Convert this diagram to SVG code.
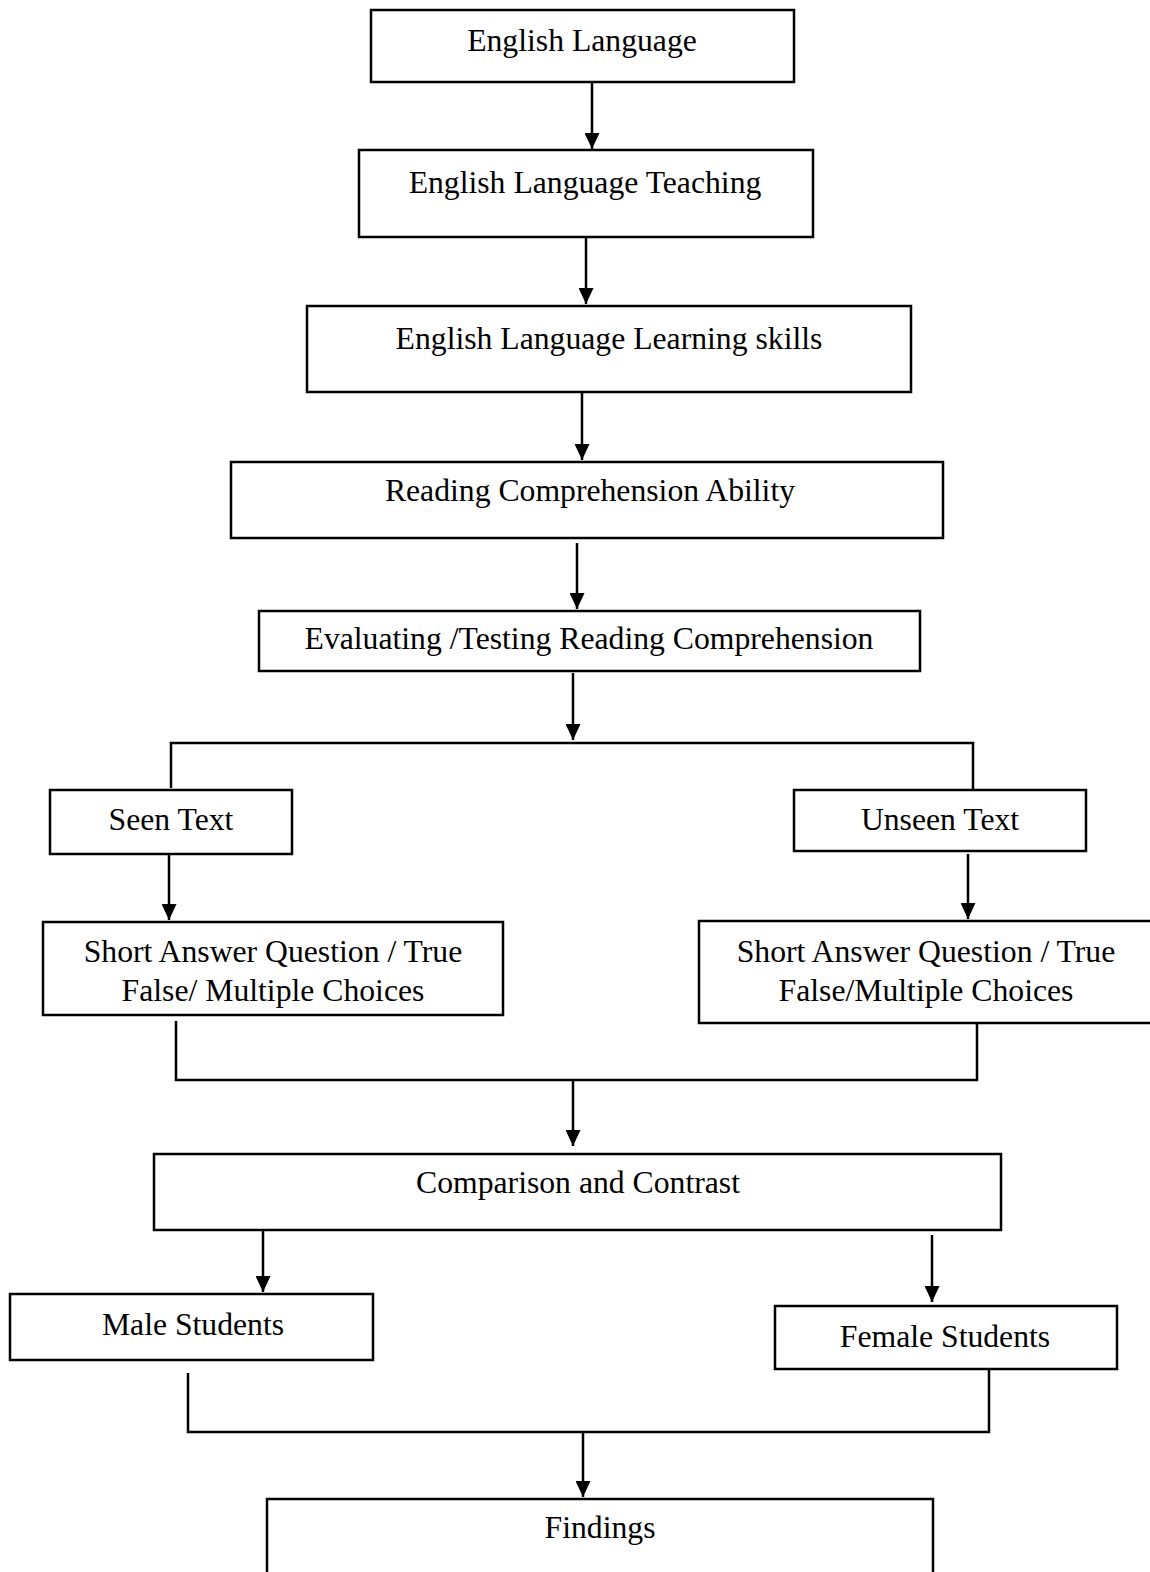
<svg xmlns="http://www.w3.org/2000/svg" width="1150" height="1572" viewBox="0 0 1150 1572">
<style>
.box{fill:#fff;stroke:#000;stroke-width:2.5}
.t{font-family:"Liberation Serif","Times New Roman",serif;font-size:31.7px;fill:#000;text-anchor:middle}
.c{fill:none;stroke:#000;stroke-width:2.5}
</style>
<defs>
<marker id="ah" markerUnits="userSpaceOnUse" markerWidth="16" markerHeight="15" refX="16" refY="7.5" orient="auto">
<path d="M0,0 L16,7.5 L0,15 z" fill="#000"/>
</marker>
</defs>
<rect width="1150" height="1572" fill="#fff"/>
<g id="connectors">
<line class="c" x1="592" y1="82" x2="592" y2="149" marker-end="url(#ah)"/>
<line class="c" x1="586" y1="237" x2="586" y2="304" marker-end="url(#ah)"/>
<line class="c" x1="582" y1="393" x2="582" y2="460" marker-end="url(#ah)"/>
<line class="c" x1="577" y1="543" x2="577" y2="609" marker-end="url(#ah)"/>
<line class="c" x1="573" y1="673" x2="573" y2="740" marker-end="url(#ah)"/>
<polyline class="c" points="171,788 171,743 973,743 973,790"/>
<line class="c" x1="169" y1="854" x2="169" y2="920" marker-end="url(#ah)"/>
<line class="c" x1="968" y1="854" x2="968" y2="919" marker-end="url(#ah)"/>
<polyline class="c" points="176,1021 176,1080 977,1080 977,1019"/>
<line class="c" x1="573" y1="1080" x2="573" y2="1146" marker-end="url(#ah)"/>
<line class="c" x1="263" y1="1230" x2="263" y2="1292" marker-end="url(#ah)"/>
<line class="c" x1="932" y1="1235" x2="932" y2="1302" marker-end="url(#ah)"/>
<polyline class="c" points="188,1373 188,1432 989,1432 989,1369"/>
<line class="c" x1="583" y1="1432" x2="583" y2="1497" marker-end="url(#ah)"/>
</g>
<g id="n1"><rect class="box" x="371" y="10" width="423" height="72"/><text class="t" x="582" y="51">English Language</text></g>
<g id="n2"><rect class="box" x="359" y="150" width="454" height="87"/><text class="t" x="585" y="193">English Language Teaching</text></g>
<g id="n3"><rect class="box" x="307" y="306" width="604" height="86"/><text class="t" x="609" y="349">English Language Learning skills</text></g>
<g id="n4"><rect class="box" x="231" y="462" width="712" height="76"/><text class="t" x="590" y="501">Reading Comprehension Ability</text></g>
<g id="n5"><rect class="box" x="259" y="611" width="661" height="60"/><text class="t" x="589" y="649">Evaluating /Testing Reading Comprehension</text></g>
<g id="n6"><rect class="box" x="50" y="790" width="242" height="64"/><text class="t" x="171" y="830">Seen Text</text></g>
<g id="n7"><rect class="box" x="794" y="790" width="292" height="61"/><text class="t" x="940" y="830">Unseen Text</text></g>
<g id="n8"><rect class="box" x="43" y="922" width="460" height="93"/><text class="t" x="273" y="962">Short Answer Question / True</text><text class="t" x="273" y="1001">False/ Multiple Choices</text></g>
<g id="n9"><rect class="box" x="699" y="921" width="455" height="102"/><text class="t" x="926" y="962">Short Answer Question / True</text><text class="t" x="926" y="1001">False/Multiple Choices</text></g>
<g id="n10"><rect class="box" x="154" y="1154" width="847" height="76"/><text class="t" x="578" y="1193">Comparison and Contrast</text></g>
<g id="n11"><rect class="box" x="10" y="1294" width="363" height="66"/><text class="t" x="193" y="1335">Male Students</text></g>
<g id="n12"><rect class="box" x="775" y="1306" width="342" height="63"/><text class="t" x="945" y="1347">Female Students</text></g>
<g id="n13"><rect class="box" x="267" y="1499" width="666" height="100"/><text class="t" x="600" y="1538">Findings</text></g>
</svg>
